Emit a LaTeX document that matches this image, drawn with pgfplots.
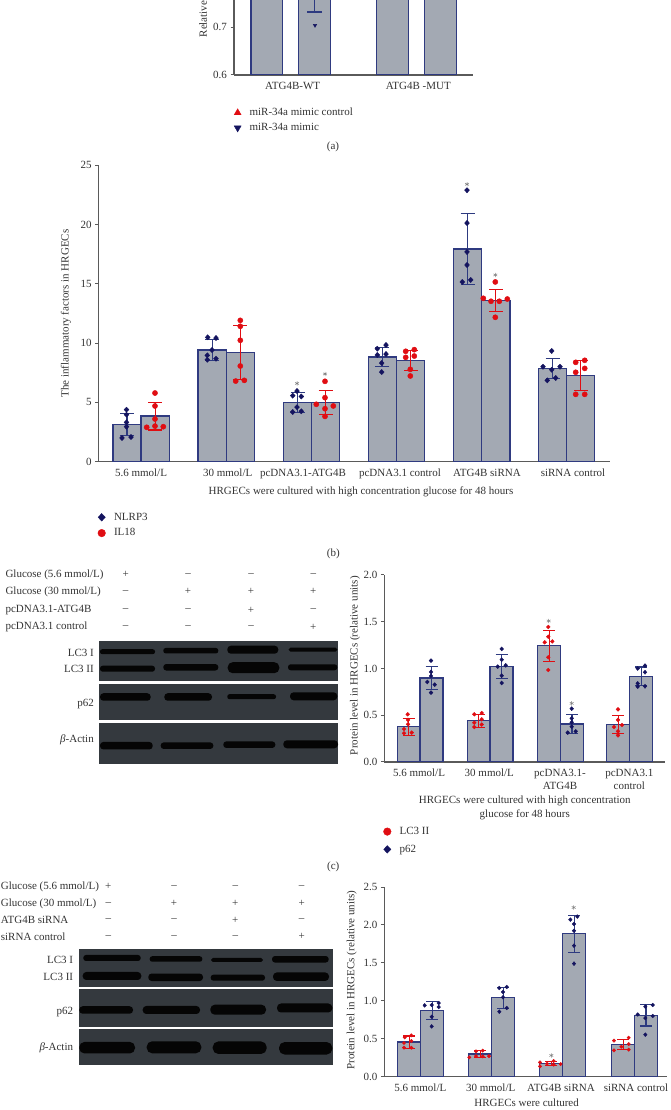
\documentclass[border=0pt]{standalone}
\usepackage{fontspec}
\setmainfont{Liberation Serif}
\usepackage{pgfplots}
\pgfplotsset{compat=1.18}

\definecolor{navy}{HTML}{14145F}
\definecolor{errn}{HTML}{2D3A80}
\definecolor{redd}{HTML}{E00D12}
\definecolor{barc}{HTML}{2F3A80}
\definecolor{barf}{HTML}{A3A9B3}
\definecolor{axc}{HTML}{5A5A5A}
\definecolor{txt}{HTML}{333333}
\definecolor{blotbg}{HTML}{34393E}
\definecolor{bandc}{HTML}{050505}

\newcommand\ft{\fontsize{11}{13.3}\selectfont}
% x data are in picture units so bars line up with the reference
\pgfplotsset{
  panel/.style={
    scale only axis, axis lines=left,
    axis line style={-,draw=axc,line width=1.1pt},
    tick style={draw=axc,line width=1pt},
    xtick style={draw=none},
    major tick length=3.5pt, tick align=outside,
    tick label style={font=\ft,text=txt},
    x tick label style={align=center},
    xtick pos=bottom, ytick pos=left,
    /pgf/number format/assume math mode=true,
    legend cell align=left,
  },
  fmt1/.style={/pgf/number format/.cd,fixed,fixed zerofill,precision=1},
  ylab/.style={every axis y label/.style={at={(axis description cs:0,#1)},xshift=\yoff,rotate=90,anchor=center,font=\ft,text=txt}},
  xlab/.style 2 args={every axis x label/.style={at={(axis description cs:#1,0)},anchor=center,align=center,yshift=#2,font=\ft,text=txt}},
  bars/.style n args={3}{ybar,bar shift=0pt,bar width=#1,draw=barc,fill=barf,line width=1.3pt,forget plot,
    error bars/y dir=both,error bars/y explicit,
    error bars/error bar style={draw=#2,line width=1.1pt},
    error bars/error mark options={rotate=90,draw=#2,mark size=#3,line width=1.1pt}},
  ptsn/.style={only marks,mark=diamond*,mark size=#1,draw=navy,fill=navy,mark options={xscale=1.25,draw=navy,fill=navy}},
  ptsr/.style={only marks,mark=*,mark size=#1,draw=redd,fill=redd,mark options={draw=redd,fill=redd}},
  stars/.style={only marks,mark=asterisk,mark size=2.2pt,draw=gray,forget plot,mark options={draw=gray,line width=.5pt}},
  lgd/.style={legend style={at={(axis description cs:0,0)},anchor=north west,draw=none,fill=none,font=\ft,text=txt,inner sep=0pt,/tikz/every odd column/.append style={column sep=6.5pt}}},
}
\newcommand\yoff{-30pt}
\newcommand\band[4]{\fill[bandc,rounded corners=#4*.45pt] ({#1},{#3-#4/2}) rectangle ({#2},{#3+#4/2});}
\newcommand\lbl[3]{\node[anchor=east,font=\ft,text=txt,inner sep=0pt] at (#1,#2) {#3};}
\newcommand\row[7]{%
  \node[anchor=west,font=\ft,text=txt,inner sep=0pt] at (#1,#2) {#3};
  \node[font=\ft,text=txt] at (\cola,#2) {#4};
  \node[font=\ft,text=txt] at (\colb,#2) {#5};
  \node[font=\ft,text=txt] at (\colc,#2) {#6};
  \node[font=\ft,text=txt] at (\cold,#2) {#7};}
\newcommand\cola{0}\newcommand\colb{0}\newcommand\colc{0}\newcommand\cold{0}

\begin{document}
\begin{tikzpicture}
\path[use as bounding box] (0,0) rectangle (670pt,1110pt);

% (a) cut off by the top of the page
\renewcommand\yoff{-31pt}
\begin{axis}[panel,lgd,at={(234pt,1035pt)},anchor=south west,width=239pt,height=75pt,
  xmin=234,xmax=473,ymin=0.6,ymax=0.7572,
  ytick={0.6,0.7},yticklabel style={fmt1},
  xtick={292.7,418.3},xticklabels={ATG4B-WT,ATG4B -MUT},
  ylabel={Relative},ylab=0.747,
  legend style={xshift=0pt,yshift=-31pt,row sep=2.2pt},
  legend image post style={mark size=4pt}]
\addplot[bars={31.7pt}{errn}{7.5pt}] coordinates {(266.7,1.0) +- (0,0) (392.3,1.0) +- (0,0)};
\addplot[bars={31.7pt}{errn}{7.5pt}] coordinates {(314.5,0.85) +- (0,0.118) (440.6,1.0) +- (0,0)};
\addplot[only marks,mark=triangle*,mark size=3pt,draw=redd,fill=redd,mark options={draw=redd,fill=redd}] coordinates {(266.7,0.9)};
\addplot[only marks,mark=triangle*,mark size=2pt,draw=navy,fill=navy,mark options={rotate=180,draw=navy,fill=navy}] coordinates {(315,0.704)};
\legend{miR-34a mimic control,miR-34a mimic}
\end{axis}

% (b)
\renewcommand\yoff{-32.7pt}
\begin{axis}[panel,lgd,at={(98.7pt,648.3pt)},anchor=south west,width=511.3pt,height=296.4pt,
  xmin=98.7,xmax=610,ymin=0,ymax=25,ytick={0,5,...,25},
  xtick={141,227.7,303,400,487,573},
  xticklabels={5.6 mmol/L,30 mmol/L,pcDNA3.1-ATG4B,pcDNA3.1 control,ATG4B siRNA,siRNA control},
  xlabel={HRGECs were cultured with high concentration glucose for 48 hours},xlab={0.513}{-30pt},
  ylabel={The inflammatory factors in HRGECs},ylab=0.5,
  legend style={xshift=-1pt,yshift=-49pt,row sep=3pt},
  legend image post style={mark size=3.8pt}]
\addplot[bars={28.3pt}{errn}{7pt}] coordinates {
  (127,3.15) +- (0,0.95) (212.2,9.42) +- (0,0.9) (297.5,5.0) +- (0,0.82)
  (382.3,8.83) +- (0,0.81) (467.5,17.94) +- (0,3.03) (552.5,7.85) +- (0,0.86)};
\addplot[bars={28.3pt}{redd}{7pt}] coordinates {
  (155.2,3.85) +- (0,1.18) (240.3,9.22) +- (0,2.3) (325.6,5.0) +- (0,1.03)
  (410.5,8.55) +- (0,0.85) (495.8,13.6) +- (0,0.92) (580.6,7.28) +- (0,1.27)};
\addplot[ptsn=2.6pt] coordinates {
  (126.5,4.39)(126.5,3.97)(126.5,3.32)(126.5,2.95)(122,2.0)(131,2.08)
  (207.7,10.49)(216,10.43)(212,9.42)(207.3,8.97)(207.3,8.6)(216,8.69)
  (297,5.96)(292.7,5.57)(301.3,5.5)(297,4.6)(292.7,4.19)(301.3,4.25)
  (386,9.84)(377.3,9.53)(377.3,9.0)(386,9.08)(381.7,8.32)(381.7,7.56)
  (467,22.9)(467,20.13)(467,17.69)(467,16.59)(462.3,15.16)(470.7,15.33)
  (551.7,9.34)(543,8.01)(560,8.01)(551.7,7.76)(547.3,6.86)(555.7,7.06)};
\addplot[ptsr=2.6pt] coordinates {
  (155,5.79)(155,4.7)(155,3.6)(146.7,2.9)(155,3.0)(163.3,2.95)
  (240.3,11.92)(240.3,11.42)(240.3,10.24)(240.3,8.07)(235.7,6.8)(244.3,6.86)
  (325,6.78)(325,5.4)(316.3,4.84)(333.3,4.7)(325,4.47)(325,3.82)
  (405.7,9.31)(414.3,9.45)(405.7,8.8)(414.3,8.91)(410.3,7.79)(410.3,7.23)
  (495.3,15.16)(483.3,13.78)(491,13.53)(499.3,13.53)(507.3,13.72)(495.3,12.18)
  (584.7,8.55)(575.7,8.38)(584.7,7.87)(575.7,7.54)(575.7,5.68)(584.7,5.68)};
\addplot[stars] coordinates {(297,6.6)(325,7.4)(467,23.4)(495.3,15.75)};
\legend{NLRP3,IL18}
\end{axis}

% (c)
\renewcommand\yoff{-29.3pt}
\begin{axis}[panel,lgd,at={(384.3pt,348pt)},anchor=south west,width=281pt,height=187pt,
  xmin=384.3,xmax=665.3,ymin=0,ymax=2,ytick={0,0.5,...,2},yticklabel style={fmt1},
  xtick={419,489.3,560,629.3},
  xticklabels={5.6 mmol/L,30 mmol/L,{pcDNA3.1-\\ATG4B},{pcDNA3.1\\control}},
  xlabel={HRGECs were cultured with high concentration\\glucose for 48 hours},xlab={0.5}{-46pt},
  ylabel={Protein level in HRGECs (relative units)},ylab=0.515,
  legend style={xshift=-1pt,yshift=-63pt,row sep=5pt},
  legend image post style={mark size=3.8pt}]
\addplot[bars={22.9pt}{redd}{6pt}] coordinates {
  (408.7,0.378) +- (0,0.09) (478.7,0.442) +- (0,0.07) (549.2,1.244) +- (0,0.167) (618.2,0.4) +- (0,0.095)};
\addplot[bars={22.9pt}{errn}{6pt}] coordinates {
  (431.5,0.898) +- (0,0.12) (501.5,1.02) +- (0,0.125) (572,0.406) +- (0,0.1) (641.2,0.916) +- (0,0.1)};
\addplot[ptsr=1.9pt] coordinates {
  (407.7,0.51)(408,0.45)(408,0.403)(404,0.353)(404,0.307)(411.7,0.314)
  (474.3,0.51)(481.7,0.524)(481.7,0.456)(474.3,0.42)(474.3,0.374)(481.7,0.4)
  (548.3,1.444)(548.3,1.34)(544.7,1.28)(552.3,1.29)(548.3,1.12)(548.3,0.984)
  (618,0.563)(618,0.45)(614,0.374)(622,0.396)(618,0.328)(618,0.285)};
\addplot[ptsn=2pt] coordinates {
  (431,1.084)(431,0.963)(431,0.92)(427.3,0.856)(434.7,0.827)(431,0.742)
  (501.7,1.209)(501.7,1.094)(497.7,1.02)(505.7,1.034)(501.7,0.923)(501.7,0.845)
  (571.7,0.57)(571.7,0.467)(571.7,0.424)(571.7,0.378)(567.7,0.314)(575.7,0.328)
  (637.7,1.0)(645,1.03)(645,0.96)(637.7,0.806)(645,0.81)(637.7,0.84)};
\addplot[stars] coordinates {(548.7,1.508)(571.7,0.627)};
\legend{LC3 II,p62}
\end{axis}

% (d)
\renewcommand\yoff{-32.6pt}
\begin{axis}[panel,at={(384.3pt,33.3pt)},anchor=south west,width=282.4pt,height=189.7pt,
  xmin=384.3,xmax=666.7,ymin=0,ymax=2.5,ytick={0,0.5,...,2.5},yticklabel style={fmt1},
  xtick={420.3,490.7,561,636},
  xticklabels={5.6 mmol/L,30 mmol/L,ATG4B siRNA,siRNA control},
  xlabel={HRGECs were cultured},xlab={0.504}{-25.6pt},
  ylabel={Protein level in HRGECs (relative units)},ylab=0.51]
\addplot[bars={23pt}{redd}{6pt}] coordinates {
  (409.3,0.457) +- (0,0.08) (480.2,0.299) +- (0,0.05) (551.3,0.176) +- (0,0.03) (623.2,0.426) +- (0,0.07)};
\addplot[bars={23pt}{errn}{6pt}] coordinates {
  (432.2,0.874) +- (0,0.12) (503.2,1.04) +- (0,0.136) (574.3,1.885) +- (0,0.245) (646,0.808) +- (0,0.14)};
\addplot[ptsr=1.7pt] coordinates {
  (404.7,0.518)(411.3,0.545)(411.3,0.47)(404,0.444)(404,0.382)(411.3,0.382)
  (476,0.334)(482.7,0.343)(476,0.272)(469.3,0.255)(482.7,0.268)(489,0.272)
  (540,0.189)(547,0.171)(553.7,0.207)(560.7,0.167)(540,0.136)(553.7,0.158)
  (614,0.475)(628.7,0.514)(628.7,0.43)(621.3,0.395)(614,0.347)(628.7,0.356)};
\addplot[ptsn=1.9pt] coordinates {
  (424.7,0.94)(431.7,0.945)(438.7,0.971)(438.7,0.918)(431.7,0.79)(431.7,0.663)
  (499.3,1.169)(506.7,1.182)(503,1.116)(503,1.046)(506.7,0.905)(499.3,0.857)
  (570.3,2.07)(577.3,2.11)(574,2.012)(574,1.924)(574,1.727)(574,1.49)
  (637.7,0.82)(652.7,0.945)(645.3,0.923)(652.7,0.8)(645.3,0.773)(645.3,0.554)};
\addplot[stars] coordinates {(551.3,0.28)(573.7,2.23)};
\end{axis}

% blots and captions, coordinates in reference pixels (y down)
\begin{scope}[shift={(0,1110pt)},x=1pt,y=-1pt]
\node[font=\ft,text=txt] at (333,147) {(a)};
\node[font=\ft,text=txt] at (333.3,554) {(b)};
\node[font=\ft,text=txt] at (333.3,867) {(c)};

% blot c
\renewcommand\cola{125.7}\renewcommand\colb{188}\renewcommand\colc{251}\renewcommand\cold{313.3}
\row{5.3}{574.7}{Glucose (5.6 mmol/L)}{+}{--}{--}{--}
\row{5.3}{591.7}{Glucose (30 mmol/L)}{--}{+}{+}{+}
\row{5.3}{610}{pcDNA3.1-ATG4B}{--}{--}{+}{--}
\row{5.3}{627.3}{pcDNA3.1 control}{--}{--}{--}{+}
\fill[blotbg] (99.3,641) rectangle (338.3,680.7);
\fill[blotbg] (99.3,684) rectangle (338.3,720);
\fill[blotbg] (99.3,723.3) rectangle (338.3,764.3);
\band{100}{155}{651.7}{5}\band{163.3}{218.3}{650.7}{5.5}\band{227.3}{278.3}{649.7}{8}\band{288.7}{337.3}{649.7}{4}
\band{100}{155}{668.7}{6}\band{163.3}{218.3}{667.3}{6.5}\band{227.7}{279.3}{667.7}{11}\band{288}{337.3}{667.3}{6}
\band{100}{150.7}{697}{7.5}\band{164.3}{212}{697}{7.5}\band{227.3}{276}{696.7}{5}\band{290}{337.3}{696.3}{8}
\band{100}{152.7}{745.7}{7.5}\band{160.7}{213.3}{745.7}{6.5}\band{223.3}{275.3}{744.7}{6.5}\band{283.3}{338}{744.3}{8}
\lbl{94}{653}{LC3 I}\lbl{94}{669.3}{LC3 II}\lbl{94}{704.3}{p62}\lbl{94}{740.3}{\textit{β}-Actin}

% blot d
\renewcommand\cola{108.3}\renewcommand\colb{174}\renewcommand\colc{235.3}\renewcommand\cold{301.7}
\row{0.7}{886.7}{Glucose (5.6 mmol/L)}{+}{--}{--}{--}
\row{0.7}{903.7}{Glucose (30 mmol/L)}{--}{+}{+}{+}
\row{0.7}{920.3}{ATG4B siRNA}{--}{--}{+}{--}
\row{0.7}{936.7}{siRNA control}{--}{--}{--}{+}
\fill[blotbg] (78.7,949) rectangle (333.3,987.3);
\fill[blotbg] (78.7,989.3) rectangle (333.3,1026.7);
\fill[blotbg] (78.7,1029.3) rectangle (333.3,1065);
\band{83.3}{140.7}{958}{6}\band{149.7}{202.3}{959}{5.5}\band{211}{263}{960}{4}\band{272}{328.7}{959.3}{6.5}
\band{82.7}{141.3}{976}{8}\band{148.3}{203}{977.3}{7.5}\band{210.7}{265}{977.7}{6}\band{273}{329}{976.7}{8.5}
\band{79.3}{133}{1010}{7.5}\band{142.7}{200}{1010}{8}\band{210.3}{266}{1009.7}{10}\band{277}{332.3}{1008}{9}
\band{79.3}{135}{1047.7}{11.5}\band{146.7}{201.3}{1047.3}{12}\band{212.7}{266.7}{1047.7}{12.5}\band{279}{332.3}{1048.3}{12.5}
\lbl{73.3}{960}{LC3 I}\lbl{73.3}{977.3}{LC3 II}\lbl{73.3}{1011.7}{p62}\lbl{73.3}{1047.7}{\textit{β}-Actin}
\end{scope}
\end{tikzpicture}
\end{document}
